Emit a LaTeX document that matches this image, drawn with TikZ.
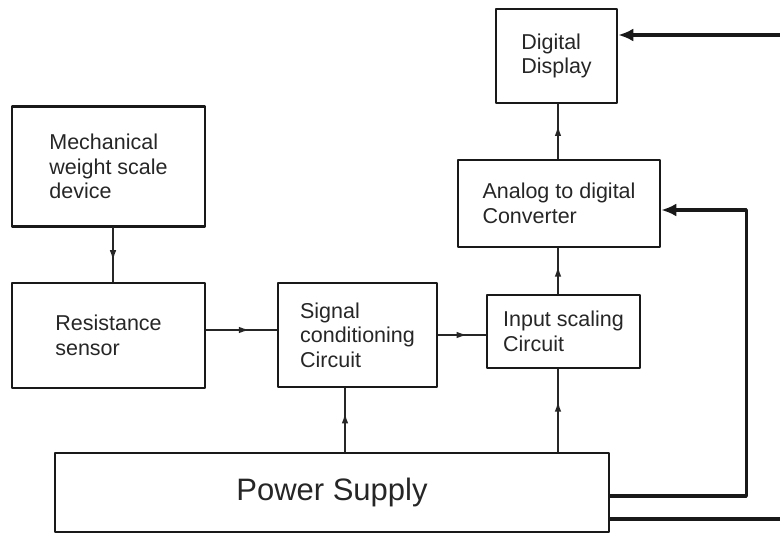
\documentclass[tikz,border=0pt]{standalone}
\usepackage{fontspec}
\setmainfont{Liberation Sans}
\usepackage{tikz}
\usetikzlibrary{arrows.meta,decorations.markings}

\begin{document}
\begin{tikzpicture}[
			x=1pt, y=-1pt,
			every node/.style={font=\fontsize{21.5}{24.5}\selectfont, text=black!85},
			box/.style={draw=black!90, line width=2.6pt, align=left, inner sep=0pt},
			wire/.style={draw=black!85, line width=2pt},
			feed/.style={draw=black!90, line width=3.2pt, -{Latex[length=15pt,width=13pt]}},
			midarrow/.style={postaction={decorate}, decoration={markings,
				mark=at position 0.62 with {\arrow{Latex[length=11pt,width=6.5pt]}}}},
			line cap=round,
			line join=round
			]
			\useasboundingbox (0,0) rectangle (780,535);
			
			% Blocks
			\node[box, minimum width=193pt, minimum height=120pt] (mech) at (108.5,166.5) {Mechanical\\weight scale\\device};
			\node[box, minimum width=193pt, minimum height=105pt] (res) at (108.5,335.5) {Resistance\\sensor};
			\node[box, minimum width=159pt, minimum height=104pt] (sig) at (357.5,335) {Signal\\conditioning\\Circuit};
			\node[box, minimum width=153pt, minimum height=73pt] (inp) at (563.5,331.5) {Input scaling\\Circuit};
			\node[box, minimum width=202pt, minimum height=87pt] (adc) at (559,203.5) {Analog to digital\\Converter};
			\node[box, minimum width=121pt, minimum height=94pt] (dsp) at (556.5,56) {Digital\\Display};
			\node[box, minimum width=554pt, minimum height=79pt, font=\fontsize{31}{36}\selectfont] (pwr) at (332,492.5) {Power Supply};
			
			% Loose ends at the right border
			\coordinate (edgeA) at (780,519);
			\coordinate (edgeB) at (780,35);
			
			% Signal path
			\draw[wire, midarrow] ([xshift=4.5pt]mech.south) -- ([xshift=4.5pt]res.north);
			\draw[wire, midarrow] ([yshift=5.5pt]res.east) -- ([yshift=5.5pt]res.east -| sig.west);
			\draw[wire, midarrow] (sig.east) -- (sig.east -| inp.west);
			\draw[wire, midarrow] ([xshift=-1pt]adc.south |- inp.north) -- ([xshift=-1pt]adc.south);
			\draw[wire, midarrow] ([xshift=-1pt]adc.north) -- ([xshift=-1pt]adc.north |- dsp.south);
			
			% Supply lines
			\draw[wire, midarrow] ([xshift=-12.5pt]sig.south |- pwr.north) -- ([xshift=-12.5pt]sig.south);
			\draw[wire, midarrow] ([xshift=-1pt]adc.south |- pwr.north) -- ([xshift=-1pt]adc.south |- inp.south);
			\draw[feed] ([yshift=-3.5pt]pwr.east) -- ++(136,0) |- ([yshift=-6.5pt]adc.east);
			\draw[line width=3.2pt, draw=black!90] (pwr.east |- edgeA) -- (edgeA);
			\draw[feed] (edgeB) -- (edgeB -| dsp.east);
\end{tikzpicture}
\end{document}
